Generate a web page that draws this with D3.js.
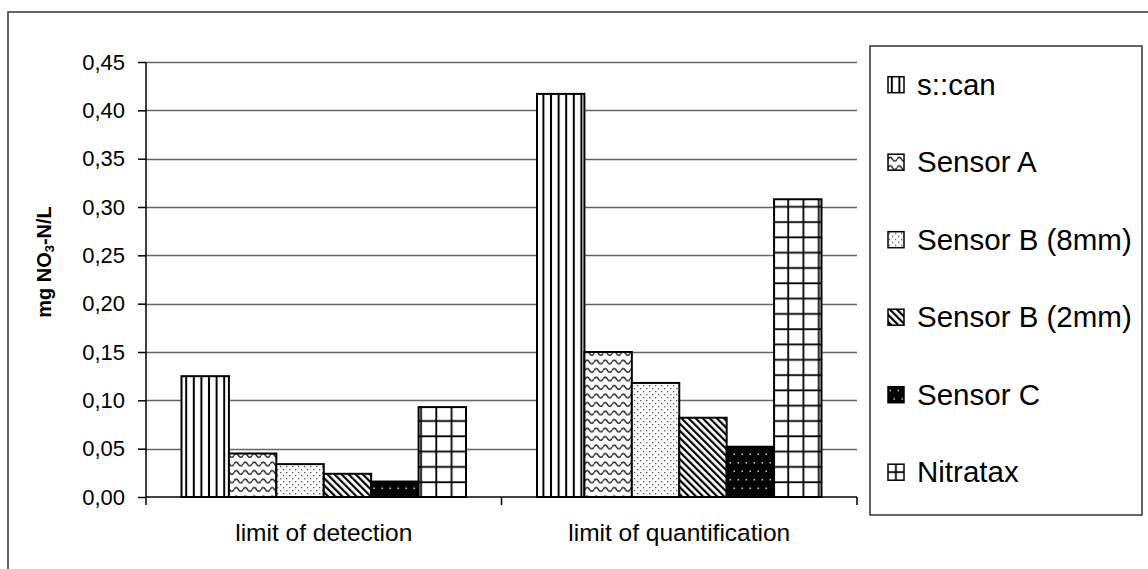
<!DOCTYPE html>
<html>
<head>
<meta charset="utf-8">
<script src="https://cdn.jsdelivr.net/npm/d3@7"></script>
<style>
  html, body { margin: 0; padding: 0; background: #fff; }
  svg { display: block; }
  text { font-family: "Liberation Sans", Arial, Helvetica, sans-serif; fill: #000; }
</style>
</head>
<body>
<svg id="chart" width="1148" height="569"></svg>
<script>
// ---- data ----
const categories = ["limit of detection", "limit of quantification"];
const series = ["s::can", "Sensor A", "Sensor B (8mm)", "Sensor B (2mm)", "Sensor C", "Nitratax"];
const lodValues = [0.125, 0.045, 0.034, 0.024, 0.016, 0.093];
const loqValues = [0.417, 0.150, 0.118, 0.082, 0.052, 0.308];
const yTicks = [0, 0.05, 0.10, 0.15, 0.20, 0.25, 0.30, 0.35, 0.40, 0.45];
const yTitle = ["mg NO", "3", "-N/L"];
const patternIds = ["p-vlines", "p-waves", "p-dots", "p-diag", "p-blackdots", "p-grid"];

const valuesByCategory = [lodValues, loqValues];
const rows = [];
categories.forEach((c, ci) => series.forEach((s, si) => rows.push({cat: c, ser: s, si, value: valuesByCategory[ci][si]})));

const svg = d3.select("#chart");
const W = 1148, H = 569;
const plot = {left: 146, right: 857, top: 62, bottom: 497};

// ---- patterns ----
const defs = svg.append("defs");
function pat(id, w, h, bg, transform) {
  const p = defs.append("pattern").attr("id", id).attr("patternUnits", "userSpaceOnUse")
    .attr("width", w).attr("height", h);
  if (transform) p.attr("patternTransform", transform);
  p.append("rect").attr("width", w).attr("height", h).attr("fill", bg);
  return p;
}
// vertical lines
pat("p-vlines", 7.6, 10, "#fff").append("rect").attr("x", 2.8).attr("y", 0).attr("width", 2).attr("height", 10).attr("fill", "#000");
// waves
pat("p-waves", 9, 8.5, "#fff").append("path")
  .attr("d", "M0,5 Q2.25,1.2 4.5,5 T9,5").attr("fill", "none").attr("stroke", "#222").attr("stroke-width", 1.5);
// sparse dots
const pd = pat("p-dots", 6, 6, "#fff");
pd.append("rect").attr("x", 1).attr("y", 1).attr("width", 1.3).attr("height", 1.3).attr("fill", "#555");
pd.append("rect").attr("x", 4).attr("y", 4).attr("width", 1.3).attr("height", 1.3).attr("fill", "#555");
// diagonal
pat("p-diag", 5, 10, "#fff", "rotate(-45)").append("rect").attr("x", 0).attr("y", 0).attr("width", 2.2).attr("height", 10).attr("fill", "#000");
// black with white dots
const pb = pat("p-blackdots", 8, 17, "#000");
pb.append("rect").attr("x", 1.5).attr("y", 3).attr("width", 1.5).attr("height", 1.5).attr("fill", "#ccc");
pb.append("rect").attr("x", 5.5).attr("y", 11.5).attr("width", 1.5).attr("height", 1.5).attr("fill", "#ccc");
// grid
const pg = pat("p-grid", 15.3, 15.3, "#fff");
pg.append("rect").attr("x", 7).attr("y", 0).attr("width", 1.8).attr("height", 15.3).attr("fill", "#000");
pg.append("rect").attr("x", 0).attr("y", 7).attr("width", 15.3).attr("height", 1.8).attr("fill", "#000");

// ---- background + outer border ----
svg.append("rect").attr("width", W).attr("height", H).attr("fill", "#fff");
svg.append("path").attr("d", `M8,${H + 5} L8,12 L${W + 5},12`).attr("fill", "none").attr("stroke", "#333").attr("stroke-width", 1.5);

// ---- scales ----
const y = d3.scaleLinear().domain([0, 0.45]).range([plot.bottom, plot.top]);
const x0 = d3.scaleBand().domain(categories).range([plot.left, plot.right]).paddingInner(0).paddingOuter(0);
const gap = 71;
const x1 = d3.scaleBand().domain(series).range([gap / 2, x0.bandwidth() - gap / 2]).padding(0);

const locale = d3.formatLocale({decimal: ",", thousands: ".", grouping: [3], currency: ["", ""]});
const fmt = locale.format(".2f");

// gridlines
svg.append("g").selectAll("line").data(yTicks.filter(t => t > 0)).join("line")
  .attr("x1", plot.left).attr("x2", plot.right)
  .attr("y1", d => Math.round(y(d)) + 0.5).attr("y2", d => Math.round(y(d)) + 0.5)
  .attr("stroke", "#666").attr("stroke-width", 1.5);

// bars
svg.append("g").selectAll("rect").data(rows).join("rect")
  .attr("x", d => x0(d.cat) + x1(d.ser))
  .attr("y", d => y(d.value))
  .attr("width", x1.bandwidth())
  .attr("height", d => y(0) - y(d.value))
  .attr("fill", d => `url(#${patternIds[d.si]})`)
  .attr("stroke", "#000").attr("stroke-width", 2);

// y axis
const yAxis = svg.append("g").attr("transform", `translate(${plot.left},0)`)
  .call(d3.axisLeft(y).tickValues(yTicks).tickFormat(fmt).tickSize(8).tickPadding(13));
yAxis.select(".domain").attr("stroke", "#000").attr("stroke-width", 1.5).attr("d", `M0,${plot.top}V${plot.bottom}`);
yAxis.selectAll(".tick line").attr("stroke", "#000").attr("stroke-width", 1.5);
yAxis.selectAll(".tick text").style("font-size", "22px").style("font-family", "Liberation Sans, Arial, sans-serif").attr("fill", "#000");

// x axis
const xAxisG = svg.append("g");
xAxisG.append("line").attr("x1", plot.left).attr("x2", plot.right).attr("y1", plot.bottom).attr("y2", plot.bottom)
  .attr("stroke", "#000").attr("stroke-width", 1.5);
const boundaries = [plot.left].concat(categories.map(c => x0(c) + x0.bandwidth()));
xAxisG.selectAll("line.tk").data(boundaries).join("line").attr("class", "tk")
  .attr("x1", d => d).attr("x2", d => d).attr("y1", plot.bottom).attr("y2", plot.bottom + 8)
  .attr("stroke", "#000").attr("stroke-width", 1.5);
xAxisG.selectAll("text").data(categories).join("text")
  .attr("x", d => x0(d) + x0.bandwidth() / 2).attr("y", 541)
  .attr("text-anchor", "middle").style("font-size", "24.5px").text(d => d);

// y title
const t = svg.append("text").attr("transform", "translate(51,262) rotate(-90)")
  .attr("text-anchor", "middle").style("font-size", "20px").style("font-weight", "bold");
t.append("tspan").text(yTitle[0]);
t.append("tspan").attr("baseline-shift", "-25%").style("font-size", "13px").text(yTitle[1]);
t.append("tspan").text(yTitle[2]);

// legend
const lg = svg.append("g");
lg.append("rect").attr("x", 870).attr("y", 46).attr("width", 272).attr("height", 469)
  .attr("fill", "#fff").attr("stroke", "#333").attr("stroke-width", 1.5);
const items = lg.selectAll("g.item").data(series).join("g").attr("class", "item")
  .attr("transform", (d, i) => `translate(888,${84.7 + i * 77.5 - 8})`);
items.append("rect").attr("x", 0).attr("y", 0).attr("width", 16).attr("height", 16)
  .attr("fill", (d, i) => `url(#${patternIds[i]})`).attr("stroke", "#000").attr("stroke-width", 1.5);
items.append("text").attr("x", 29).attr("y", 18).style("font-size", "29.5px").text(d => d);
</script>
</body>
</html>
